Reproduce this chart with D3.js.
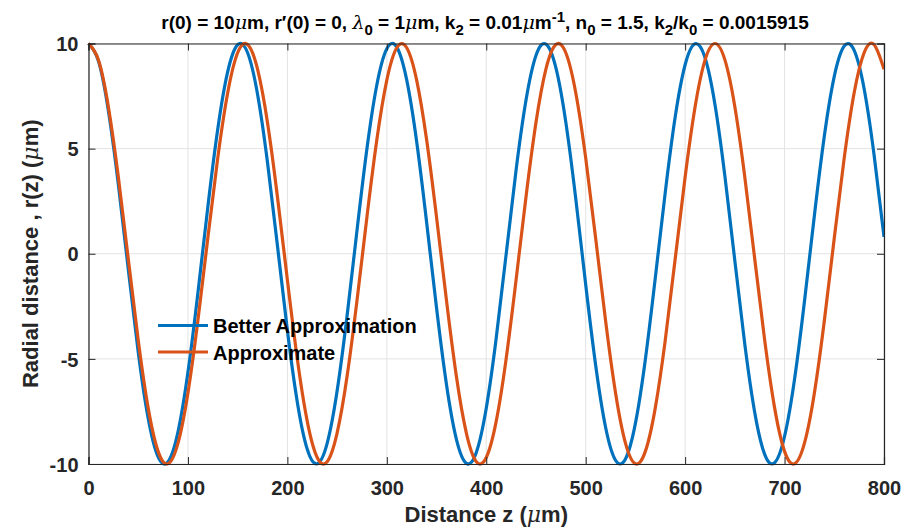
<!DOCTYPE html>
<html><head><meta charset="utf-8">
<script src="https://cdn.jsdelivr.net/npm/d3@7"></script>
<style>body{margin:0;background:#fff}svg{display:block}text{font-family:"Liberation Sans",Arial,sans-serif}</style>
</head><body><svg id="c" width="914" height="530"></svg>
<script>
const zValues = d3.range(0, 801, 10);
const betterApprox = [10,9.17,6.80,3.30,-0.74,-4.67,-7.82,-9.66,-9.89,-8.47,-5.64,-1.87,2.22,5.93,8.66,9.94,9.56,7.59,4.35,0.39,-3.64,-7.06,-9.30,-9.99,-9.02,-6.53,-2.96,1.10,4.99,8.04,9.75,9.83,8.27,5.34,1.51,-2.57,-6.22,-8.83,-9.97,-9.45,-7.35,-4.02,-0.03,3.98,7.31,9.43,9.97,8.85,6.26,2.62,-1.46,-5.29,-8.25,-9.82,-9.76,-8.07,-5.03,-1.15,2.91,6.50,8.99,9.99,9.32,7.10,3.69,-0.34,-4.30,-7.55,-9.54,-9.94,-8.68,-5.98,-2.27,1.82,5.60,8.44,9.88,9.67,7.85,4.71,0.80];
const approximate = [10,9.21,6.98,3.65,-0.25,-4.11,-7.33,-9.40,-9.99,-9.01,-6.62,-3.18,0.75,4.56,7.66,9.56,9.95,8.78,6.24,2.71,-1.24,-5.00,-7.97,-9.69,-9.89,-8.53,-5.84,-2.23,1.74,5.43,8.26,9.80,9.80,8.26,5.43,1.74,-2.22,-5.84,-8.53,-9.89,-9.69,-7.97,-5.00,-1.24,2.71,6.24,8.78,9.95,9.56,7.66,4.56,0.75,-3.18,-6.61,-9.01,-9.99,-9.40,-7.33,-4.12,-0.25,3.65,6.98,9.21,10.00,9.22,6.99,3.65,-0.25,-4.11,-7.33,-9.40,-9.99,-9.01,-6.62,-3.19,0.75,4.56,7.66,9.56,9.95,8.78];
const xTicks = [0,100,200,300,400,500,600,700,800];
const yTicks = [-10,-5,0,5,10];
const seriesNames = ["Better Approximation","Approximate"];
const seriesColors = ["#0072BD","#D95319"];

const svg = d3.select("#c");
const L=88.5, R=884, T=43.5, B=464;
const x = d3.scaleLinear().domain([0,800]).range([L,R]);
const y = d3.scaleLinear().domain([-10,10]).range([B,T]);
const ink = "#262626";
const fmt = d => String(d);

// grid
const g = svg.append("g");
g.selectAll("line.gx").data(xTicks).join("line").attr("x1",d=>x(d)).attr("x2",d=>x(d)).attr("y1",T).attr("y2",B).attr("stroke","#e3e3e3").attr("stroke-width",1);
g.selectAll("line.gy").data(yTicks).join("line").attr("y1",d=>y(d)).attr("y2",d=>y(d)).attr("x1",L).attr("x2",R).attr("stroke","#e3e3e3").attr("stroke-width",1);

// lines
const line = d3.line().x((d,i)=>x(zValues[i])).y(d=>y(d)).curve(d3.curveNatural);
svg.append("clipPath").attr("id","cp").append("rect").attr("x",L-2).attr("y",T-3).attr("width",R-L+2).attr("height",B-T+6);
[betterApprox, approximate].forEach((s,k)=>{
  svg.append("path").attr("d",line(s)).attr("fill","none").attr("stroke",seriesColors[k]).attr("stroke-width",3.2).attr("clip-path","url(#cp)");
});

// axes (box + ticks)
const xAxB = d3.axisBottom(x).tickValues(xTicks).tickSize(-7).tickPadding(12).tickFormat(fmt);
const xAxT = d3.axisTop(x).tickValues(xTicks).tickSize(-7).tickFormat("");
const yAxL = d3.axisLeft(y).tickValues(yTicks).tickSize(-7).tickPadding(10).tickFormat(fmt);
const yAxR = d3.axisRight(y).tickValues(yTicks).tickSize(-7).tickFormat("");
function style(sel){sel.select(".domain").attr("stroke",ink).attr("stroke-width",1.2);sel.selectAll(".tick line").attr("stroke",ink).attr("stroke-width",1);sel.selectAll("text").attr("fill",ink).attr("font-size",20).attr("font-weight","bold").attr("font-family","'Liberation Sans',Arial,sans-serif");}
svg.append("g").attr("transform",`translate(0,${B})`).call(xAxB).call(style).call(s=>s.selectAll("text").attr("dy","0").attr("y",31));
svg.append("g").attr("transform",`translate(0,${T})`).call(xAxT).call(style);
svg.append("g").attr("transform",`translate(${L},0)`).call(yAxL).call(style).call(s=>s.selectAll("text").attr("dy","0.36em"));
svg.append("g").attr("transform",`translate(${R},0)`).call(yAxR).call(style);

// labels
const xl = svg.append("text").attr("x",(L+R)/2).attr("y",522).attr("text-anchor","middle").attr("font-size",22).attr("font-weight","bold").attr("fill",ink);
xl.append("tspan").text("Distance z (");
xl.append("tspan").text("μ").attr("font-family","'DejaVu Serif',serif").attr("font-style","italic").attr("font-weight","normal");
xl.append("tspan").text("m)");

const yl = svg.append("text").attr("transform",`translate(38,${(T+B)/2}) rotate(-90)`).attr("text-anchor","middle").attr("font-size",22).attr("font-weight","bold").attr("fill",ink);
yl.append("tspan").text("Radial distance , r(z) (");
yl.append("tspan").text("μ").attr("font-family","'DejaVu Serif',serif").attr("font-style","italic").attr("font-weight","normal");
yl.append("tspan").text("m)");

// title
const tt = svg.append("text").attr("x",485).attr("y",29).attr("text-anchor","middle").attr("font-size",19).attr("font-weight","bold").attr("fill","#000");
function add(t,opt={}){const s=tt.append("tspan").text(t);if(opt.mu){s.attr("font-family","'DejaVu Serif',serif").attr("font-style","italic").attr("font-weight","normal");}if(opt.sub){s.attr("dy",6).attr("font-size",15);}if(opt.sup){s.attr("dy",-7).attr("font-size",15);}if(opt.back){s.attr("dy",opt.back);}return s;}
add("r(0) = 10");add("μ",{mu:1});add("m, r′(0) = 0, ");add("λ",{mu:1});add("0",{sub:1});add(" = 1",{back:-6});add("μ",{mu:1});add("m, k");add("2",{sub:1});add(" = 0.01",{back:-6});add("μ",{mu:1});add("m");add("-1",{sup:1});add(", n",{back:7});add("0",{sub:1});add(" = 1.5, k",{back:-6});add("2",{sub:1});add("/k",{back:-6});add("0",{sub:1});add(" = 0.0015915",{back:-6});

// legend
const lg = svg.append("g");
seriesNames.forEach((n,i)=>{
  const yy = 325.5 + i*26.5;
  lg.append("line").attr("x1",158).attr("x2",208).attr("y1",yy).attr("y2",yy).attr("stroke",seriesColors[i]).attr("stroke-width",3.2);
  lg.append("text").attr("x",213).attr("y",yy+7.5).attr("font-size",20).attr("font-weight","bold").attr("fill","#000").text(n);
});
</script></body></html>
